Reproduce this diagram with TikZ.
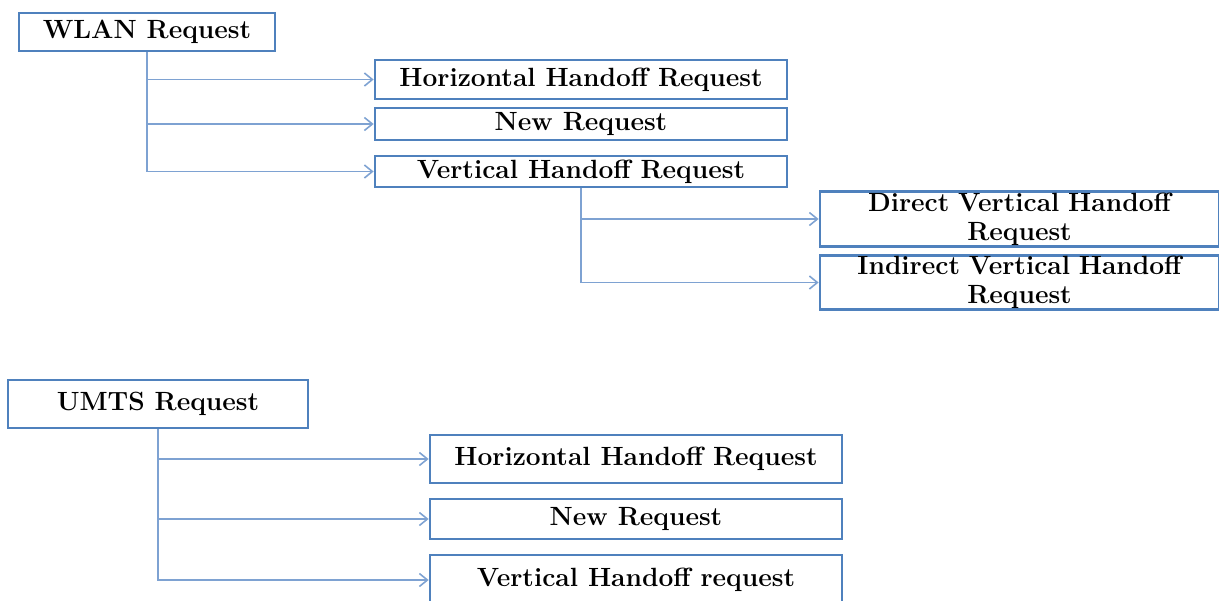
\documentclass[tikz,border=0pt]{standalone}
\usepackage{xcolor}
\definecolor{boxblue}{HTML}{4F81BD}
\definecolor{linkblue}{HTML}{7EA2D2}
\usepackage{tikz}
\usetikzlibrary{arrows.meta}

\begin{document}
\begin{tikzpicture}[x=0.02cm,y=-0.02cm,
    reqbox/.style={draw=boxblue,line width=1.6pt,inner sep=0.5pt,align=center,minimum width=8.24cm,
      font=\fontsize{15}{16.5}\selectfont\bfseries},
    link/.style={draw=linkblue,line width=0.9pt,-{Straight Barb[length=1.6mm,width=2.6mm]}}]
  \useasboundingbox (0,0) rectangle (1219,600);

  % WLAN side
  \node[reqbox,minimum width=5.12cm,minimum height=0.76cm](wlan) at (147,32) {WLAN Request};
  \node[reqbox,minimum height=0.78cm](whor) at (581,79.5) {Horizontal Handoff Request};
  \node[reqbox,minimum height=0.64cm](wnew) at (581,124) {New Request};
  \node[reqbox,minimum height=0.62cm](wvert) at (581,171.5) {Vertical Handoff Request};
  \draw[link] (wlan.south) |- (whor.west);
  \draw[link] (wlan.south) |- (wnew.west);
  \draw[link] (wlan.south) |- (wvert.west);

  \node[reqbox,minimum width=7.98cm,minimum height=0.96cm,text width=7.9cm](wdir) at (1019.5,219) {Direct Vertical Handoff\\Request};
  \node[reqbox,minimum width=7.98cm,minimum height=0.98cm,text width=7.9cm](wind) at (1019.5,282.5) {Indirect Vertical Handoff\\Request};
  \draw[link] (wvert.south) |- (wdir.west);
  \draw[link] (wvert.south) |- (wind.west);

  % UMTS side
  \node[reqbox,minimum width=6cm,minimum height=0.96cm](umts) at (158,404) {UMTS Request};
  \node[reqbox,minimum height=0.96cm](uhor) at (636,459) {Horizontal Handoff Request};
  \node[reqbox,minimum height=0.8cm](unew) at (636,519) {New Request};
  \node[reqbox,minimum height=1cm](uvert) at (636,580) {Vertical Handoff request};
  \draw[link] (umts.south) |- (uhor.west);
  \draw[link] (umts.south) |- (unew.west);
  \draw[link] (umts.south) |- (uvert.west);
\end{tikzpicture}
\end{document}
